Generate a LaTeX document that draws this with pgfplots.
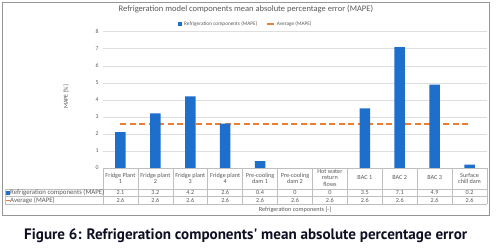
\documentclass[border=0pt]{standalone}
\usepackage{pgfplots}
\usepackage{pgfplotstable}
\pgfplotsset{compat=1.18}
\usepackage{fontspec}
\setmainfont{Carlito}
\newfontfamily\capfont{PT Sans}
\definecolor{barblue}{RGB}{30,111,204}
\definecolor{avgorange}{RGB}{237,125,49}
\definecolor{txtgray}{RGB}{89,89,89}
\definecolor{gridgray}{RGB}{222,222,222}
\definecolor{tabgray}{RGB}{190,190,190}
\definecolor{framegray}{RGB}{150,150,150}
\newcommand\fs[1]{\fontsize{#1bp}{#1bp}\selectfont}

\pgfplotstableread{
x y avg
0 2.1 2.6
1 3.2 2.6
2 4.2 2.6
3 2.6 2.6
4 0.4 2.6
5 0 2.6
6 0 2.6
7 3.5 2.6
8 7.1 2.6
9 4.9 2.6
10 0.2 2.6
}\datatable

\begin{document}
\begin{tikzpicture}
\begin{scope}[x=1bp,y=-1bp]
\useasboundingbox (0,0) rectangle (496,251);
\draw[framegray, line width=0.8bp] (2,2) rectangle (489.5,215);
\end{scope}
\begin{axis}[
  at={(103bp,-168bp)}, anchor=south west,
  scale only axis, width=384bp, height=136.3bp,
  xmin=-0.5, xmax=10.5, ymin=0, ymax=8,
  ytick={0,...,8}, xtick=\empty,
  axis line style={draw=none},
  major tick length=0pt,
  ymajorgrids, grid style={gridgray, line width=0.5bp},
  yticklabel style={font=\fs{5.8}, text=txtgray, xshift=-1bp},
  /pgf/number format/assume math mode=true,
  clip=false,
  title={Refrigeration model components mean absolute percentage error (MAPE)},
  title style={font=\fs{8.5}, text=txtgray, at={(rel axis cs:0.372,1.122)}, anchor=center},
  legend columns=2,
  legend style={at={(0.372,1.057)}, anchor=center, draw=none, fill=none,
    font=\fs{5.3}, text=txtgray, inner sep=0pt,
    /tikz/every even column/.append style={column sep=7bp}},
]
\addplot[avgorange, line width=1.8bp, dash pattern=on 6bp off 3.5bp, forget plot]
  table[x=x, y=avg] {\datatable};
\addplot[ybar, bar width=10.5bp, fill=barblue, draw=none,
  legend image code/.code={\fill[barblue] (0bp,-2bp) rectangle (4bp,2bp);}]
  table[x=x, y=y] {\datatable};
\addlegendentry{Refrigeration components (MAPE)}
\addlegendimage{avgorange, line width=1.5bp, legend image code/.code={\draw[avgorange, line width=1.5bp] (0bp,0bp) -- (7bp,0bp);}}
\addlegendentry{Average (MAPE)}
\end{axis}
\begin{scope}[x=1bp,y=-1bp]
\def\w{34.909}
\node[rotate=90, font=\fs{6}, text=txtgray] at (66,97) {MAPE [\%]};
\foreach \i in {0,...,11} \draw[tabgray, line width=0.5bp] (103+\i*\w,168) -- (103+\i*\w,204);
\draw[tabgray, line width=0.5bp] (103,168) -- (487,168);
\draw[tabgray, line width=0.5bp] (5,189) -- (487,189);
\draw[tabgray, line width=0.5bp] (5,196.5) -- (487,196.5);
\draw[tabgray, line width=0.5bp] (5,204) -- (487,204);
\draw[tabgray, line width=0.5bp] (5,189) -- (5,204);
\foreach \lab [count=\c from 0] in {Fridge Plant\\1, Fridge plant\\2, Fridge plant\\3, Fridge plant\\4, Pre-cooling\\dam 1, Pre-cooling\\dam 2, Hot water\\return\\flows, BAC 1, BAC 2, BAC 3, Surface\\chill dam}
  \node[align=center, font=\fs{6.2}\linespread{1.0}\selectfont, text=txtgray, inner sep=0pt] at (103+\c*\w+0.5*\w,178) {\lab};
\foreach \i in {0,...,10} {
  \pgfplotstablegetelem{\i}{y}\of\datatable
  \node[font=\fs{6.2}, text=txtgray, inner sep=0pt] at (103+\i*\w+0.5*\w,192.7) {\pgfplotsretval};
  \pgfplotstablegetelem{\i}{avg}\of\datatable
  \node[font=\fs{6.2}, text=txtgray, inner sep=0pt] at (103+\i*\w+0.5*\w,200.3) {\pgfplotsretval};
}
\fill[barblue] (6,191) rectangle (9.5,194.5);
\draw[avgorange, line width=1.2bp] (6,200.3) -- (9.5,200.3);
\node[anchor=west, font=\fs{6.8}, text=txtgray, inner sep=0pt] at (10,192.7) {Refrigeration components (MAPE)};
\node[anchor=west, font=\fs{6.8}, text=txtgray, inner sep=0pt] at (10,200.3) {Average (MAPE)};
\node[font=\fs{6.2}, text=txtgray, inner sep=0pt] at (295,209.5) {Refrigeration components [-]};
\node[anchor=base west, font=\capfont\bfseries\fs{15.1}, text={rgb,255:red,15;green,15;blue,35}, inner sep=0pt] at (24,239) {Figure 6: Refrigeration components' mean absolute percentage error};
\end{scope}
\end{tikzpicture}
\end{document}
